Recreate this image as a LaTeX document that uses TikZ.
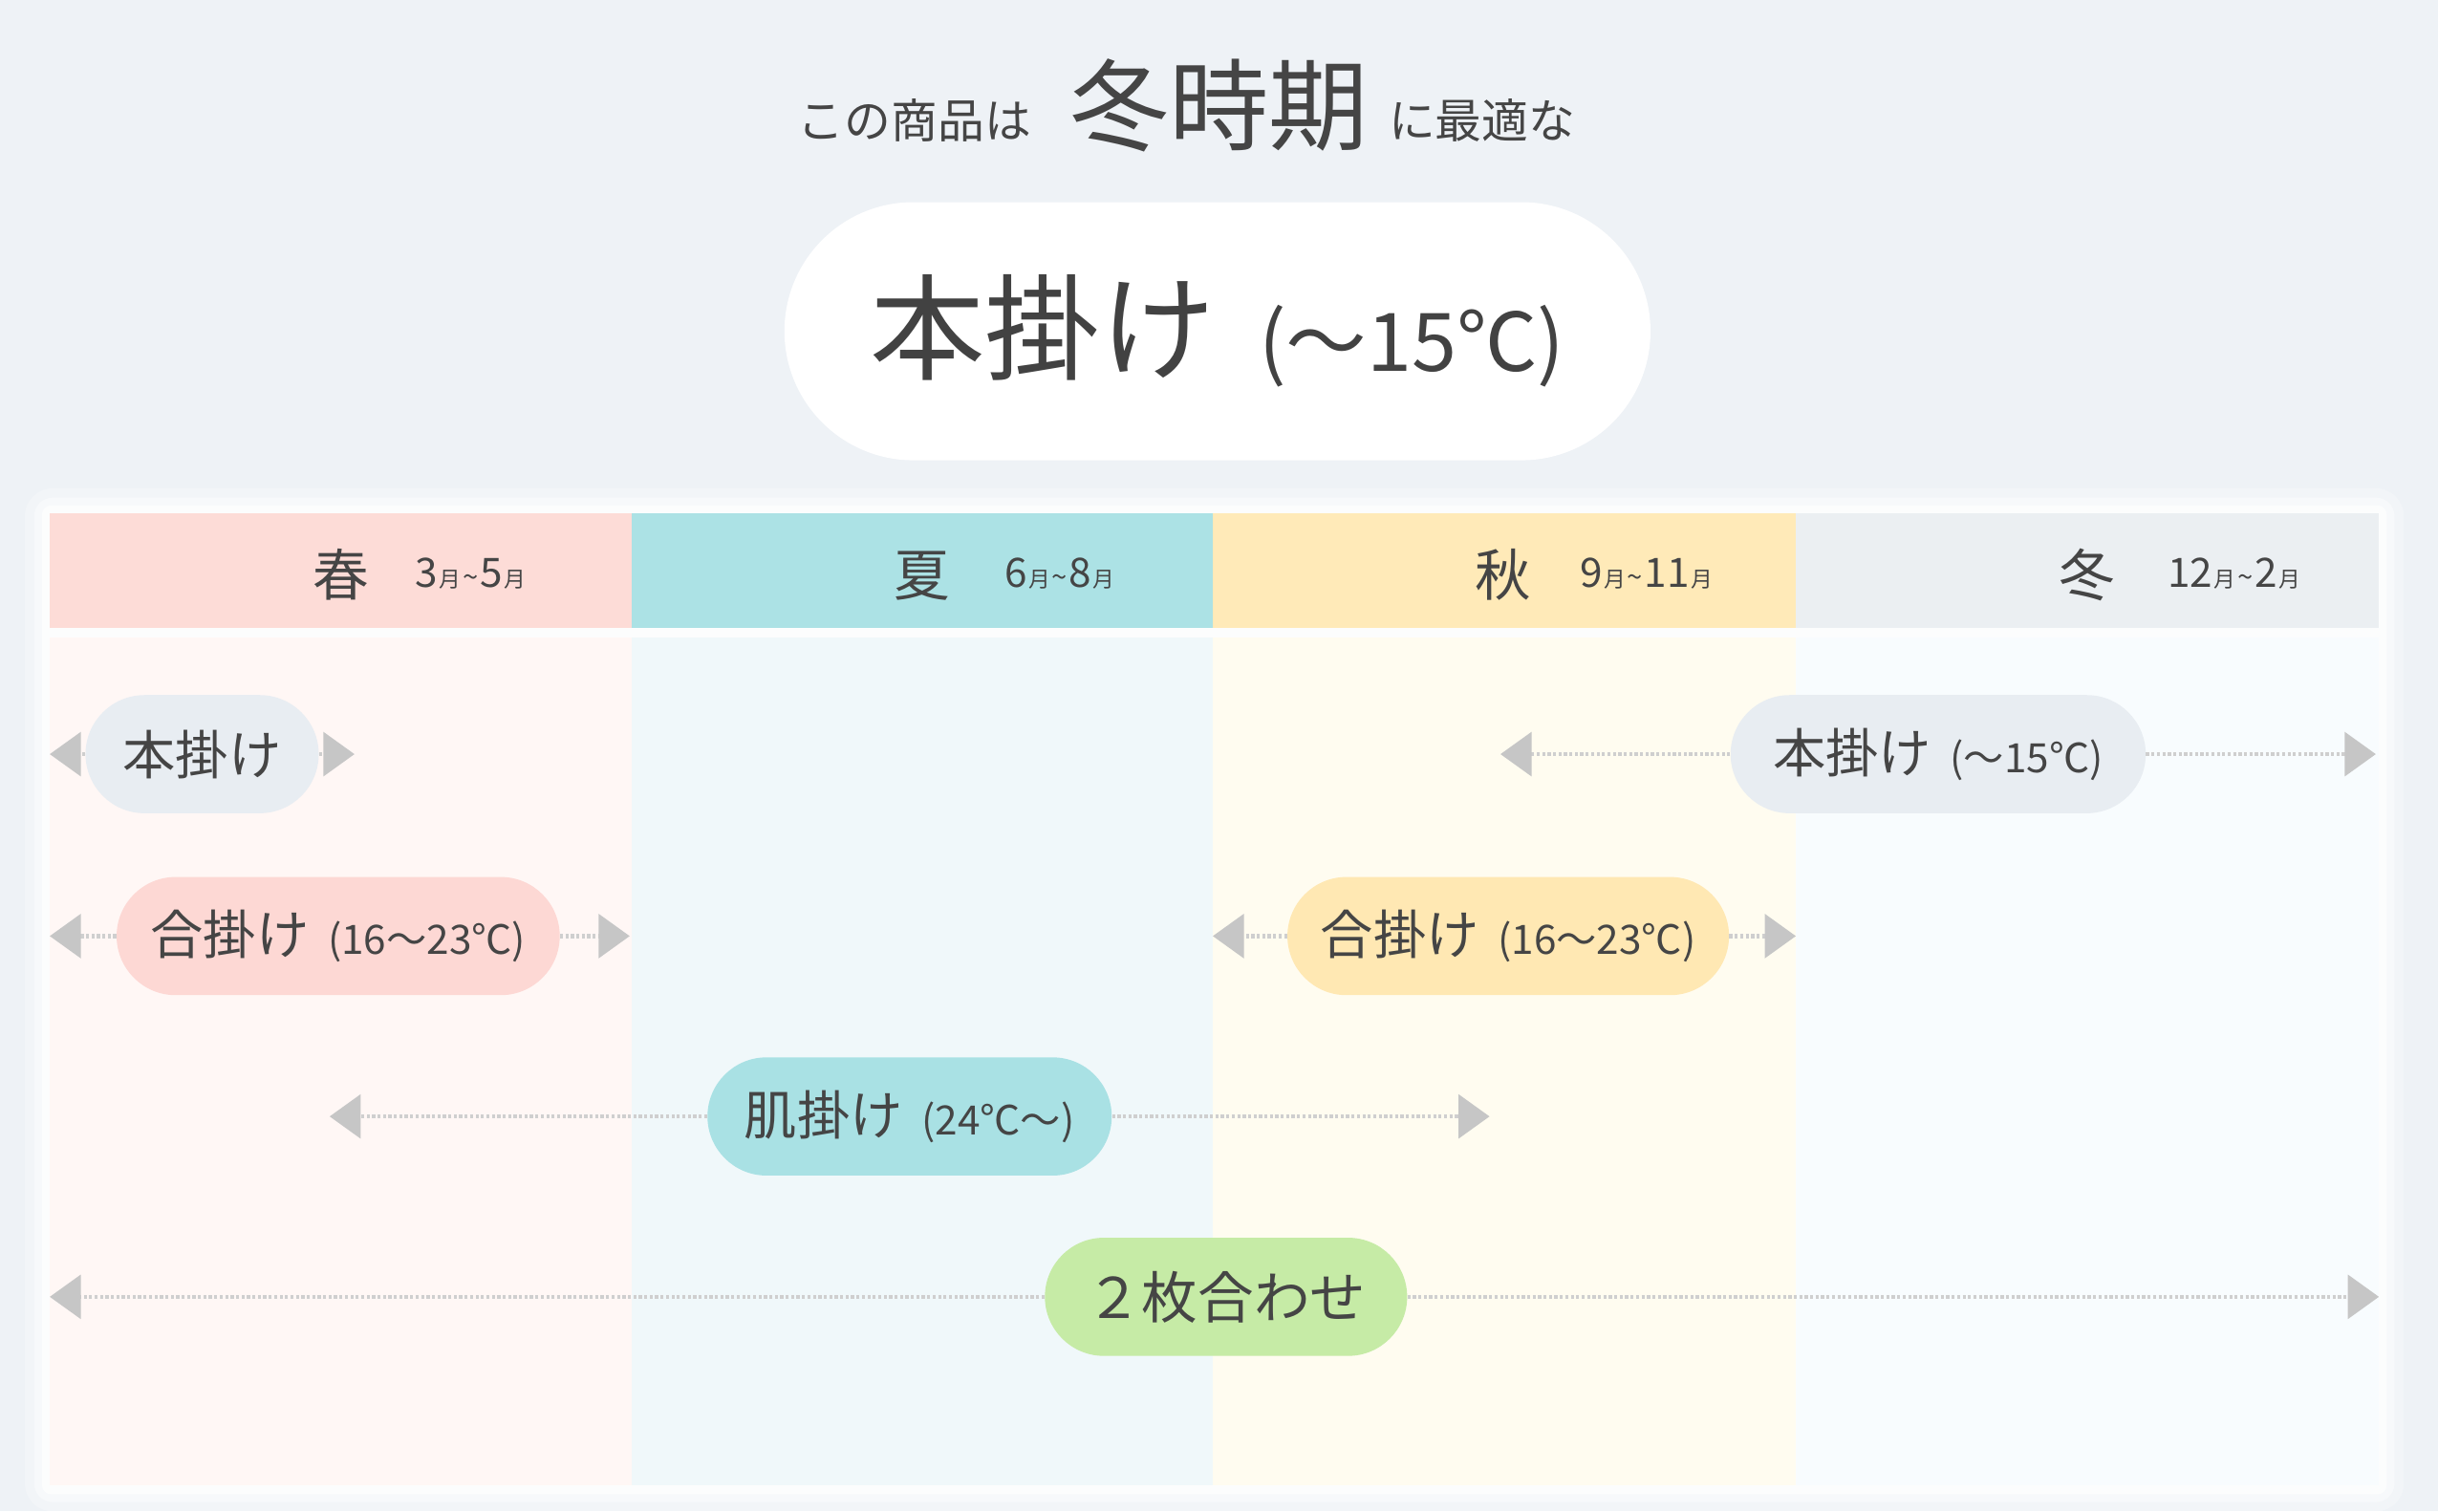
\documentclass[tikz,border=0pt]{standalone}
\usepackage{fontspec}
\setmainfont{Noto Sans CJK JP}
\usetikzlibrary{arrows.meta}
\definecolor{bg}{HTML}{EEF2F6}
\definecolor{hpink}{HTML}{FDDCD7}
\definecolor{hteal}{HTML}{ACE2E5}
\definecolor{hyellow}{HTML}{FFEAB8}
\definecolor{hgrey}{HTML}{EBEFF2}
\definecolor{bpink}{HTML}{FFF7F5}
\definecolor{bteal}{HTML}{F0F8FA}
\definecolor{byellow}{HTML}{FFFCF0}
\definecolor{bgrey}{HTML}{F8FCFE}
\definecolor{pgrey}{HTML}{E8EDF2}
\definecolor{ppink}{HTML}{FDD8D4}
\definecolor{pyellow}{HTML}{FFE8B3}
\definecolor{pteal}{HTML}{A9E1E4}
\definecolor{pgreen}{HTML}{C6EBA6}
\definecolor{arrowC}{HTML}{C6C6C6}
\definecolor{lineC}{HTML}{CFCFCF}
\definecolor{ink}{HTML}{454545}
\newcommand\fsz[1]{\fontsize{#1}{#1}\selectfont}
\newcommand\monrange[2]{{\fsz{26}#1}\kern1pt{\fsz{14}月}\kern1pt{\fsz{18}\textasciitilde}\kern1pt{\fsz{26}#2}\kern1pt{\fsz{14}月}}
\begin{document}
\begin{tikzpicture}[x=1pt,y=-1pt,
  txt/.style={text=ink, inner sep=0pt},
  pill/.style={rounded corners=38pt, minimum height=76pt, inner sep=0pt, text=ink},
  bigpill/.style={fill=white, rounded corners=83pt, minimum height=166pt, minimum width=557pt, inner sep=0pt, text=ink!95!black},
  conn/.style={draw=lineC, line width=2.8pt, dash pattern=on 2pt off 1.5pt,
    -{Triangle[length=20pt,width=28pt,color=arrowC,fill=arrowC]}},
  season/.style={txt, anchor=base, font=\fsz{36}},
  months/.style={txt, anchor=base west},
]
\useasboundingbox (0,0) rectangle (1568,972);
\fill[bg] (0,0) rectangle (1568,972);

% title
\node[txt, anchor=base west] (t1) at (513,89) {\fsz{30}この商品は};
\node[txt, anchor=base west] (t2) at (688,92) {\fsz{64}冬時期};
\node[txt, anchor=base west] (t3) at (893,89) {\fsz{30}に最適な};

% main pill
\node[bigpill] (main) at (783,213) {{\fsz{74}本掛け}\hspace{28pt}{\fsz{52}(～15℃)}};

% panel frame (soft glow)
\fill[white, opacity=0.25, rounded corners=18pt] (16,314) rectangle (1546,972);
\fill[white, opacity=0.45, rounded corners=12pt] (22,320) rectangle (1540,966);
\fill[white, opacity=0.7, rounded corners=6pt] (27,325) rectangle (1535,961);

% header
\fill[hpink]   (32,330) rectangle (406,404);
\fill[hteal]   (406,330) rectangle (780,404);
\fill[hyellow] (780,330) rectangle (1155,404);
\fill[hgrey]   (1155,330) rectangle (1530,404);
% body
\fill[bpink]   (32,410) rectangle (406,955);
\fill[bteal]   (406,410) rectangle (780,955);
\fill[byellow] (780,410) rectangle (1155,955);
\fill[bgrey]   (1155,410) rectangle (1530,955);

% header labels
\node[season] (s1) at (219,383) {春};
\node[months] (m1) at (267,378) {\monrange{3}{5}};
\node[season] (s2) at (593,383) {夏};
\node[months] (m2) at (646,378) {\monrange{6}{8}};
\node[season] (s3) at (967,383) {秋};
\node[months] (m3) at (1016,378) {\monrange{9}{11}};
\node[season] (s4) at (1342,383) {冬};
\node[months] (m4) at (1394,378) {\monrange{12}{2}};

% row pills
\node[pill, fill=pgrey, minimum width=150pt] (r1L) at (130,485) {\fsz{34}本掛け};
\node[pill, fill=pgrey, minimum width=267pt] (r1R) at (1246.5,485) {{\fsz{34}本掛け}\hspace{12pt}{\fsz{26}(～15℃)}};
\node[pill, fill=ppink, minimum width=285pt] (r2L) at (217.5,602) {{\fsz{34}合掛け}\hspace{12pt}{\fsz{26}(16～23℃)}};
\node[pill, fill=pyellow, minimum width=284pt] (r2R) at (970,602) {{\fsz{34}合掛け}\hspace{12pt}{\fsz{26}(16～23℃)}};
\node[pill, fill=pteal, minimum width=260pt] (r3) at (585,718) {{\fsz{34}肌掛け}\hspace{12pt}{\fsz{26}(24℃～)}};
\node[pill, fill=pgreen, minimum width=233pt] (r4) at (788.5,834) {\fsz{36}２枚合わせ};

% arrow ends
\coordinate (r1La) at (32,485);   \coordinate (r1Lb) at (228,485);
\coordinate (r1Ra) at (965,485);  \coordinate (r1Rb) at (1528,485);
\coordinate (r2La) at (32,602);   \coordinate (r2Lb) at (405,602);
\coordinate (r2Ra) at (780,602);  \coordinate (r2Rb) at (1155,602);
\coordinate (r3a) at (212,718);   \coordinate (r3b) at (958,718);
\coordinate (r4a) at (32,834);    \coordinate (r4b) at (1530,834);

\draw[conn] (r1L.west) -- (r1La);  \draw[conn] (r1L.east) -- (r1Lb);
\draw[conn] (r1R.west) -- (r1Ra);  \draw[conn] (r1R.east) -- (r1Rb);
\draw[conn] (r2L.west) -- (r2La);  \draw[conn] (r2L.east) -- (r2Lb);
\draw[conn] (r2R.west) -- (r2Ra);  \draw[conn] (r2R.east) -- (r2Rb);
\draw[conn] (r3.west) -- (r3a);    \draw[conn] (r3.east) -- (r3b);
\draw[conn] (r4.west) -- (r4a);    \draw[conn] (r4.east) -- (r4b);
\end{tikzpicture}
\end{document}
